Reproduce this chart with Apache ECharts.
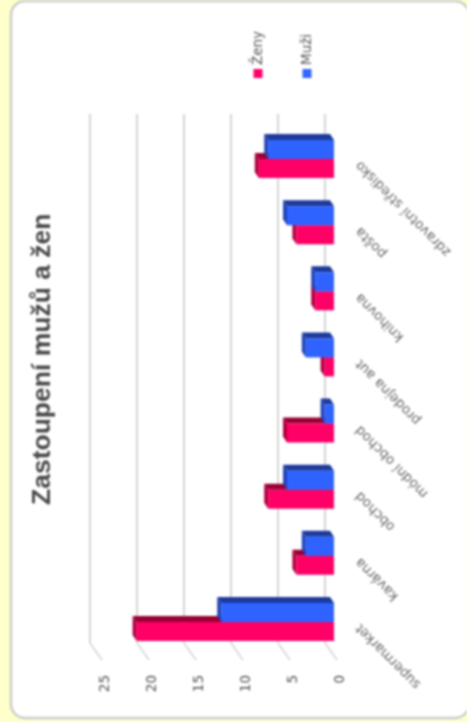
<!DOCTYPE html>
<html>
<head>
<meta charset="utf-8">
<style>
  html, body { margin: 0; width: 100%; height: 100%; background: #ffffcc; }
  #chart-panel { width: 467px; height: 722px; filter: blur(0.8px); }
</style>
<script src="https://cdnjs.cloudflare.com/ajax/libs/echarts/6.0.0/echarts.min.js"></script>
</head>
<body>
<div id="chart-panel"></div>
<script>
var categories = ['supermarket', 'kavárna', 'obchod', 'módní obchod', 'prodejna aut', 'knihovna', 'pošta', 'zdravotní středisko'];
var zeny = [21, 4, 7, 5, 1, 2, 4, 8];
var muzi = [12, 3, 5, 1, 3, 2, 5, 7];
var axisTicks = [0, 5, 10, 15, 20, 25];
var titleText = 'Zastoupení mužů a žen';

var font = 'DejaVu Sans';

// one 3d bar: front face + darker top and end face, shifted from the back wall
function barItem(front, top, side) {
  return function (params, api) {
    var v = api.value(0), cat = api.value(1);
    var end = api.coord([v, cat]);
    var base = api.coord([0, cat]);
    var x0 = base[0] + 9, x1 = end[0] + 9;
    var yMid = end[1] + 12;
    var y0 = front === '#ff0066' ? yMid : yMid - 19;
    var y1 = y0 + 19;
    var dx = -4, dy = -6;
    return {
      type: 'group',
      children: [
        { type: 'polygon', shape: { points: [[x1, y0], [x0, y0], [x0 + dx, y0 + dy], [x1 + dx, y0 + dy]] }, style: { fill: top } },
        { type: 'polygon', shape: { points: [[x1, y0], [x1, y1], [x1 + dx, y1 + dy], [x1 + dx, y0 + dy]] }, style: { fill: side } },
        { type: 'rect', shape: { x: x1, y: y0, width: x0 - x1, height: 19 }, style: { fill: front } }
      ]
    };
  };
}

function legendItem(name, color, x) {
  return [
    { type: 'rect', shape: { x: x - 4.5, y: 69, width: 9, height: 9 }, style: { fill: color } },
    { type: 'text', x: x, y: 65, rotation: Math.PI / 2,
      style: { text: name, fill: '#555', font: '13.5px "' + font + '"', align: 'left', verticalAlign: 'middle' } }
  ];
}

var myChart = echarts.init(document.getElementById('chart-panel'));
var option = {
  animation: false,
  grid: [
    { left: 90, width: 235, top: 114, height: 529 },
    { left: 105, width: 235, top: 130, height: 529 }
  ],
  xAxis: [
    { type: 'value', gridIndex: 0, inverse: true, min: 0, max: 25, interval: 5,
      axisLine: { show: false }, axisTick: { show: false }, axisLabel: { show: false },
      splitLine: { lineStyle: { color: '#d4d4d4', width: 2 } } },
    { type: 'value', gridIndex: 1, inverse: true, min: 0, max: 25, interval: 5,
      axisLine: { show: false }, axisTick: { show: false }, splitLine: { show: false },
      axisLabel: { rotate: 90, margin: 16, color: '#555', fontFamily: font, fontSize: 13.5 } }
  ],
  yAxis: [
    { type: 'category', gridIndex: 0, data: categories, axisLine: { show: false }, axisTick: { show: false }, axisLabel: { show: false } },
    { type: 'category', gridIndex: 1, position: 'right', data: categories, axisLine: { show: false }, axisTick: { show: false },
      axisLabel: { rotate: 135, margin: 18, interval: 0, color: '#666', fontFamily: font, fontSize: 13.5 } }
  ],
  graphic: [
    { type: 'rect', z: -10, shape: { x: 11, y: 1, width: 458, height: 717, r: 14 }, style: { fill: '#fff', stroke: '#cccccc', lineWidth: 2.5 } },
    { type: 'text', x: 43, y: 505, rotation: Math.PI / 2,
      style: { text: titleText, fill: '#4a4a4a', font: 'bold 26.5px "Liberation Sans"', align: 'left', verticalAlign: 'middle' } }
  ].concat(legendItem('Ženy', '#ff0066', 258), legendItem('Muži', '#3366ff', 307)),
  series: [
    { type: 'custom', name: 'floor', xAxisIndex: 0, yAxisIndex: 0, silent: true, z: 1,
      data: axisTicks.map(function (t) { return [t, 0]; }),
      renderItem: function (params, api) {
        var x = api.coord([api.value(0), 0])[0];
        var y = params.coordSys.y + params.coordSys.height;
        return { type: 'line', shape: { x1: x, y1: y, x2: x + 12, y2: y + 17 }, style: { stroke: '#d4d4d4', lineWidth: 1.5 } };
      } },
    { type: 'custom', name: 'Ženy', xAxisIndex: 0, yAxisIndex: 0, z: 2,
      data: zeny.map(function (v, i) { return [v, i]; }),
      renderItem: barItem('#ff0066', '#990033', '#b00040') },
    { type: 'custom', name: 'Muži', xAxisIndex: 0, yAxisIndex: 0, z: 3,
      data: muzi.map(function (v, i) { return [v, i]; }),
      renderItem: barItem('#2f63ff', '#1d3a9c', '#2346b8') }
  ]
};
myChart.setOption(option);
</script>
</body>
</html>
